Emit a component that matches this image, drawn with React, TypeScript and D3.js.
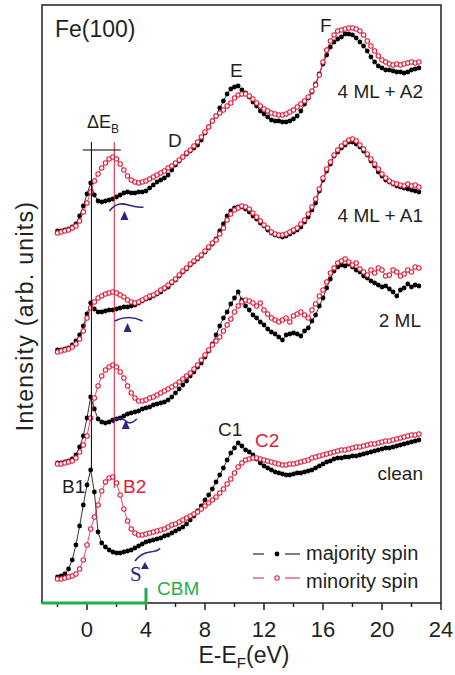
import React from "react";
import * as d3 from "d3";

// photon energy grid (eV, relative to E_F)
const energy = [
  -2, -1.75, -1.5, -1.25, -1, -0.75, -0.5, -0.25,
  0, 0.25, 0.5, 0.75, 1, 1.25, 1.5, 1.75,
  2, 2.25, 2.5, 2.75, 3, 3.25, 3.5, 3.75,
  4, 4.25, 4.5, 4.75, 5, 5.25, 5.5, 5.75,
  6, 6.25, 6.5, 6.75, 7, 7.25, 7.5, 7.75,
  8, 8.25, 8.5, 8.75, 9, 9.25, 9.5, 9.75,
  10, 10.25, 10.5, 10.75, 11, 11.25, 11.5, 11.75,
  12, 12.25, 12.5, 12.75, 13, 13.25, 13.5, 13.75,
  14, 14.25, 14.5, 14.75, 15, 15.25, 15.5, 15.75,
  16, 16.25, 16.5, 16.75, 17, 17.25, 17.5, 17.75,
  18, 18.25, 18.5, 18.75, 19, 19.25, 19.5, 19.75,
  20, 20.25, 20.5, 20.75, 21, 21.25, 21.5, 21.75,
  22, 22.25, 22.5,
];

// intensities (arb. units, curves already offset as in the figure)
const cleanMajority = [
  2.6, 2.7, 2.9, 3.4, 4.3, 5.8, 7.7, 9.8,
  11.8, 13.3, 11.1, 7.1, 6.0, 5.6, 5.3, 5.1,
  5.0, 5.0, 5.1, 5.2, 5.3, 5.5, 5.7, 5.9,
  6.1, 6.2, 6.3, 6.4, 6.5, 6.7, 6.8, 7.0,
  7.2, 7.4, 7.6, 7.9, 8.3, 8.7, 9.2, 9.7,
  10.3, 10.8, 11.4, 12.1, 12.8, 13.5, 14.3, 15.0,
  15.5, 16.0, 15.7, 15.3, 15.1, 14.8, 14.4, 14.0,
  13.7, 13.5, 13.3, 13.1, 13.0, 12.9, 12.8, 12.8,
  12.9, 13.0, 13.0, 13.1, 13.2, 13.3, 13.5, 13.7,
  13.9, 14.1, 14.2, 14.4, 14.5, 14.5, 14.6, 14.6,
  14.7, 14.7, 14.8, 14.9, 15.0, 15.1, 15.2, 15.3,
  15.4, 15.5, 15.5, 15.6, 15.7, 15.8, 15.9, 16.0,
  16.1, 16.2, 16.3,
];
const cleanMinority = [
  2.4, 2.4, 2.5, 2.6, 2.7, 2.9, 3.4, 4.3,
  5.8, 7.4, 8.6, 9.8, 11.2, 12.1, 12.5, 12.6,
  12.0, 10.8, 9.4, 8.2, 7.4, 7.0, 6.8, 6.8,
  6.9, 7.0, 7.1, 7.2, 7.3, 7.4, 7.6, 7.8,
  7.9, 8.1, 8.3, 8.5, 8.7, 8.9, 9.1, 9.4,
  9.7, 10.0, 10.3, 10.6, 11.0, 11.4, 11.9, 12.4,
  13.0, 13.6, 14.0, 14.3, 14.4, 14.5, 14.5, 14.4,
  14.3, 14.2, 14.1, 14.0, 13.9, 13.8, 13.8, 13.9,
  13.9, 14.0, 14.1, 14.2, 14.3, 14.5, 14.6, 14.7,
  14.8, 14.9, 15.0, 15.1, 15.2, 15.3, 15.3, 15.4,
  15.5, 15.6, 15.6, 15.7, 15.8, 15.9, 15.9, 16.0,
  16.1, 16.2, 16.2, 16.3, 16.4, 16.5, 16.6, 16.7,
  16.8, 16.8, 16.9,
];
const ml2Majority = [
  14.0, 14.0, 14.1, 14.2, 14.4, 14.8, 15.6, 16.7,
  18.5, 20.6, 19.4, 18.4, 18.1, 18.0, 18.1, 18.3,
  18.4, 18.5, 18.7, 18.9, 19.0, 19.1, 19.2, 19.4,
  19.5, 19.6, 19.8, 19.9, 20.0, 20.1, 20.3, 20.6,
  21.0, 21.4, 21.8, 22.2, 22.7, 23.1, 23.6, 24.0,
  24.6, 25.2, 25.9, 26.8, 27.7, 28.5, 29.1, 29.9,
  30.5, 31.1, 30.3, 29.7, 29.3, 28.8, 28.5, 28.1,
  27.8, 27.4, 27.1, 26.9, 26.6, 26.3, 26.8, 26.9,
  27.0, 26.9, 26.7, 27.2, 27.5, 28.2, 28.8, 29.7,
  30.5, 31.5, 32.4, 33.2, 33.6, 33.8, 33.7, 33.9,
  33.6, 33.3, 33.1, 32.7, 32.5, 32.2, 32.0, 31.8,
  31.6, 31.7, 31.4, 31.1, 30.7, 31.3, 31.5, 31.9,
  31.6, 31.8, 31.7,
];
const ml2Minority = [
  13.9, 13.9, 14.0, 14.1, 14.2, 14.5, 15.1, 15.8,
  16.7, 18.5, 20.5, 21.7, 22.7, 23.3, 23.6, 23.8,
  23.6, 23.1, 22.5, 21.7, 21.0, 20.5, 20.2, 20.2,
  20.3, 20.5, 20.6, 20.8, 21.0, 21.2, 21.4, 21.6,
  21.8, 22.1, 22.4, 22.7, 23.0, 23.4, 23.8, 24.3,
  24.8, 25.3, 25.8, 26.2, 26.6, 27.2, 27.8, 28.4,
  29.1, 29.7, 30.1, 30.3, 30.2, 30.0, 29.7, 30.0,
  29.3, 28.9, 28.5, 28.3, 28.1, 28.3, 28.5, 28.1,
  28.7, 28.9, 29.1, 28.8, 28.5, 29.3, 29.9, 30.7,
  31.3, 32.1, 33.0, 33.5, 34.0, 34.2, 34.4, 34.1,
  33.8, 34.0, 33.4, 33.1, 32.8, 33.3, 33.0, 33.5,
  33.3, 32.7, 32.8, 33.3, 33.1, 32.7, 32.9, 33.3,
  33.1, 33.6, 33.5,
];
const a1Majority = [
  25.3, 25.3, 25.4, 25.5, 25.8, 26.2, 26.8, 27.7,
  28.9, 30.0, 29.4, 29.1, 29.1, 29.2, 29.3, 29.3,
  29.4, 29.5, 29.6, 29.6, 29.7, 29.8, 30.0, 30.2,
  30.4, 30.5, 30.7, 30.9, 31.1, 31.4, 31.6, 32.0,
  32.3, 32.7, 33.1, 33.4, 33.8, 34.1, 34.4, 34.7,
  35.1, 35.5, 35.9, 36.4, 37.2, 37.9, 38.7, 39.2,
  39.5, 39.6, 39.6, 39.4, 39.1, 38.7, 38.4, 38.0,
  37.7, 37.3, 37.0, 36.8, 36.7, 36.6, 36.7, 36.9,
  37.1, 37.3, 37.6, 38.1, 38.6, 39.3, 40.0, 41.2,
  42.3, 43.2, 43.9, 44.7, 45.1, 45.5, 45.8, 46.1,
  46.1, 45.9, 45.6, 45.2, 44.8, 44.2, 43.7, 43.1,
  42.7, 42.3, 42.1, 41.9, 41.7, 41.6, 41.5, 41.4,
  41.3, 41.2, 41.1,
];
const a1Minority = [
  25.1, 25.2, 25.3, 25.4, 25.6, 25.9, 26.4, 27.2,
  28.5, 29.5, 30.1, 30.5, 30.7, 30.9, 31.0, 31.1,
  31.0, 30.8, 30.6, 30.3, 30.1, 30.0, 30.1, 30.3,
  30.5, 30.7, 30.8, 31.0, 31.3, 31.5, 31.8, 32.1,
  32.4, 32.8, 33.2, 33.5, 33.9, 34.2, 34.5, 34.8,
  35.2, 35.6, 36.0, 36.3, 36.9, 37.5, 38.3, 38.9,
  39.3, 39.5, 39.7, 39.6, 39.4, 39.0, 38.6, 38.2,
  37.8, 37.5, 37.1, 36.9, 36.8, 36.8, 36.9, 37.1,
  37.3, 37.5, 37.9, 38.3, 38.9, 39.6, 40.4, 41.4,
  42.5, 43.4, 44.1, 44.8, 45.3, 45.7, 46.0, 46.3,
  46.4, 46.2, 45.8, 45.4, 44.9, 44.4, 43.9, 43.4,
  42.9, 42.5, 42.2, 42.0, 41.9, 41.8, 41.7, 41.9,
  41.7, 41.8, 41.6,
];
const a2Majority = [
  37.2, 37.2, 37.3, 37.4, 37.6, 37.9, 38.7, 39.7,
  40.9, 42.0, 40.8, 40.2, 40.1, 40.2, 40.3, 40.4,
  40.6, 40.8, 41.0, 41.1, 41.0, 41.0, 41.1, 41.1,
  41.2, 41.5, 41.8, 42.1, 42.3, 42.5, 42.8, 43.3,
  43.8, 44.2, 44.6, 44.9, 45.2, 45.5, 45.8, 46.3,
  47.0, 47.6, 48.2, 48.7, 49.5, 50.2, 50.9, 51.4,
  51.6, 51.7, 51.3, 51.0, 50.6, 50.1, 49.7, 49.2,
  48.9, 48.6, 48.3, 48.2, 48.2, 48.1, 48.1, 48.2,
  48.4, 48.7, 49.2, 49.9, 50.5, 51.1, 51.9, 52.9,
  53.9, 54.8, 55.6, 56.1, 56.4, 56.6, 56.9, 56.9,
  56.8, 56.5, 56.1, 55.7, 55.2, 54.6, 54.1, 53.7,
  53.5, 53.3, 53.3, 53.2, 53.1, 53.1, 53.0, 53.1,
  53.3, 53.4, 53.5,
];
const a2Minority = [
  37.0, 37.1, 37.2, 37.3, 37.5, 37.7, 38.2, 39.1,
  40.0, 41.1, 42.2, 42.9, 43.5, 44.0, 44.4, 44.6,
  44.4, 43.9, 43.3, 42.7, 42.3, 42.1, 42.0, 42.1,
  42.2, 42.4, 42.6, 42.8, 43.0, 43.2, 43.5, 43.7,
  44.0, 44.3, 44.6, 45.0, 45.3, 45.7, 46.1, 46.6,
  47.1, 47.6, 48.2, 48.7, 49.0, 49.3, 49.7, 50.0,
  50.5, 50.8, 50.9, 50.9, 50.7, 50.4, 50.0, 49.7,
  49.4, 49.2, 49.0, 48.9, 48.8, 48.8, 48.9, 49.1,
  49.3, 49.6, 49.9, 50.2, 50.6, 51.2, 51.8, 52.8,
  54.1, 55.3, 56.2, 56.8, 57.2, 57.3, 57.4, 57.5,
  57.5, 57.4, 57.2, 56.8, 56.2, 55.7, 55.2, 54.7,
  54.3, 54.1, 53.9, 53.8, 53.9, 53.8, 53.9, 54.0,
  54.1, 54.0, 54.1,
];

const spectra = [
  { name: "clean", majority: cleanMajority, minority: cleanMinority },
  { name: "2 ML", majority: ml2Majority, minority: ml2Minority },
  { name: "4 ML + A1", majority: a1Majority, minority: a1Minority },
  { name: "4 ML + A2", majority: a2Majority, minority: a2Minority },
];

const majorTicks = [0, 4, 8, 12, 16, 20, 24];
const minorTicks = [-2, 2, 6, 10, 14, 18, 22];

// B1 / B2 peak positions (eV) and the CBM
const b1Energy = 0.3;
const b2Energy = 1.85;
const cbmEnergy = 4;

// surface state arrows (tip position)
const surfaceE = [3.93, 2.63, 2.75, 2.54];
const surfaceI = [4.1, 18.3, 28.0, 39.2];

const INK = "#231f20";
const RED = "#e31937";
const PURPLE = "#33228a";
const GREEN = "#1fae4b";
const SANS = "'Liberation Sans', Arial, sans-serif";

export default function App() {
  const width = 455;
  const height = 675;

  const x = d3.scaleLinear().domain([-3.05, 24]).range([42, 441]);
  const y = d3.scaleLinear().domain([0, 59.8]).range([603, 5]);

  const line = d3
    .line<number>()
    .x((_, i) => x(energy[i]))
    .y((v) => y(v));

  // little wiggles drawn over each arrow, relative to the arrow tip
  const waves = [
    "M -10 -1 Q -4 -9 5 -10 T 15 -14",
    "M -13 3 C -9 -3, -4 -3, 0 1 S 8 2, 11 -1",
    "M -13 -2 Q 1 -9 15 -2",
    "M -15 0 C -9 -8, -3 -8, 4 -6 S 14 -3, 19 -4",
  ];

  return (
    <svg
      width={width}
      height={height}
      style={{ position: "absolute", left: 0, top: 0, background: "#fff" }}
      fontFamily={SANS}
    >
      {/* spectra */}
      {spectra.map((s) => (
        <g key={s.name}>
          <path d={line(s.majority) ?? ""} fill="none" stroke="#000" strokeWidth={0.8} />
          {s.majority.map((v, i) => (
            <circle key={i} cx={x(energy[i])} cy={y(v)} r={2.4} fill="#000" />
          ))}
          <path d={line(s.minority) ?? ""} fill="none" stroke={RED} strokeWidth={0.8} />
          {s.minority.map((v, i) => (
            <circle key={i} cx={x(energy[i])} cy={y(v)} r={2.2} fill="#fff" stroke={RED} strokeWidth={1.1} />
          ))}
        </g>
      ))}

      {/* delta E_B bracket */}
      <line x1={x(b1Energy)} x2={x(b1Energy)} y1={y(46.1)} y2={y(cleanMajority[9])} stroke="#000" strokeWidth={1} />
      <line x1={x(b2Energy)} x2={x(b2Energy)} y1={y(46.1)} y2={y(11.5)} stroke={RED} strokeWidth={1} />
      <line x1={x(-0.29)} x2={x(2.29)} y1={y(45.3)} y2={y(45.3)} stroke="#000" strokeWidth={1} />

      {/* surface state arrows */}
      {surfaceE.map((e, i) => {
        const cx = x(e);
        const cy = y(surfaceI[i]);
        const h = i === 0 ? 7 : 9;
        return (
          <g key={i} transform={`translate(${cx},${cy})`}>
            <path d={waves[i]} fill="none" stroke={PURPLE} strokeWidth={1.6} />
            <path d={`M 0 0 L 4 ${h} L -4 ${h} Z`} fill={PURPLE} />
          </g>
        );
      })}
      <text x={x(surfaceE[0]) - 15} y={y(surfaceI[0]) + 19} fontFamily="'Liberation Serif', 'DejaVu Serif', serif" fontSize={21} fill={PURPLE}>
        S
      </text>

      {/* frame */}
      <rect x={42} y={5} width={399} height={598} fill="none" stroke={INK} strokeWidth={1.5} />

      {/* x ticks */}
      {majorTicks.map((t) => (
        <g key={t}>
          <line x1={x(t)} x2={x(t)} y1={603} y2={610} stroke={INK} strokeWidth={1.5} />
          <text x={x(t)} y={637} textAnchor="middle" fontSize={22} fill={INK}>
            {t}
          </text>
        </g>
      ))}
      {minorTicks.map((t) => (
        <line key={t} x1={x(t)} x2={x(t)} y1={603} y2={607} stroke={INK} strokeWidth={1.5} />
      ))}

      {/* CBM marker */}
      <line x1={x(-3.05)} x2={x(cbmEnergy)} y1={603} y2={603} stroke={GREEN} strokeWidth={3.2} />
      <line x1={x(cbmEnergy)} x2={x(cbmEnergy)} y1={604.5} y2={588} stroke={GREEN} strokeWidth={3} />
      <text x={157} y={595} fontSize={19} fill={GREEN}>CBM</text>

      {/* axis titles */}
      <text x={244} y={663} textAnchor="middle" fontSize={23} fill={INK}>
        E-E
        <tspan fontSize={15} dy={5}>F</tspan>
        <tspan dy={-5}>(eV)</tspan>
      </text>
      <text transform="translate(33,316) rotate(-90)" textAnchor="middle" fontSize={23} letterSpacing={1.3} fill={INK}>
        Intensity (arb. units)
      </text>

      {/* annotations */}
      <text x={55} y={37} fontSize={23} fill={INK}>Fe(100)</text>
      <text x={87} y={128} fontSize={18} fill={INK}>
        ΔE<tspan fontSize={12} dy={5}>B</tspan>
      </text>
      <text x={168} y={147} fontSize={19} fill={INK}>D</text>
      <text x={230} y={77} fontSize={19} fill={INK}>E</text>
      <text x={320} y={32} fontSize={19} fill={INK}>F</text>
      <text x={62} y={493} fontSize={19} fill={INK}>B1</text>
      <text x={123} y={493} fontSize={19} fill={RED}>B2</text>
      <text x={218} y={436} fontSize={19} fill={INK}>C1</text>
      <text x={255} y={447} fontSize={19} fill={RED}>C2</text>

      <text x={423} y={480} textAnchor="end" fontSize={19} fill={INK}>clean</text>
      <text x={421} y={327} textAnchor="end" fontSize={19} fill={INK}>2 ML</text>
      <text x={423} y={222} textAnchor="end" fontSize={19} fill={INK}>4 ML + A1</text>
      <text x={423} y={98} textAnchor="end" fontSize={19} fill={INK}>4 ML + A2</text>

      {/* legend */}
      <g>
        <line x1={253} x2={264} y1={554} y2={554} stroke="#000" strokeWidth={1} />
        <line x1={285} x2={300} y1={554} y2={554} stroke="#000" strokeWidth={1} />
        <circle cx={277} cy={554} r={2.4} fill="#000" />
        <text x={306} y={560} fontSize={20} fill={INK}>majority spin</text>
        <line x1={253} x2={264} y1={578} y2={578} stroke={RED} strokeWidth={1} />
        <line x1={285} x2={300} y1={578} y2={578} stroke={RED} strokeWidth={1} />
        <circle cx={277} cy={578} r={2.2} fill="#fff" stroke={RED} strokeWidth={1.1} />
        <text x={306} y={588} fontSize={20} fill={INK}>minority spin</text>
      </g>
    </svg>
  );
}
